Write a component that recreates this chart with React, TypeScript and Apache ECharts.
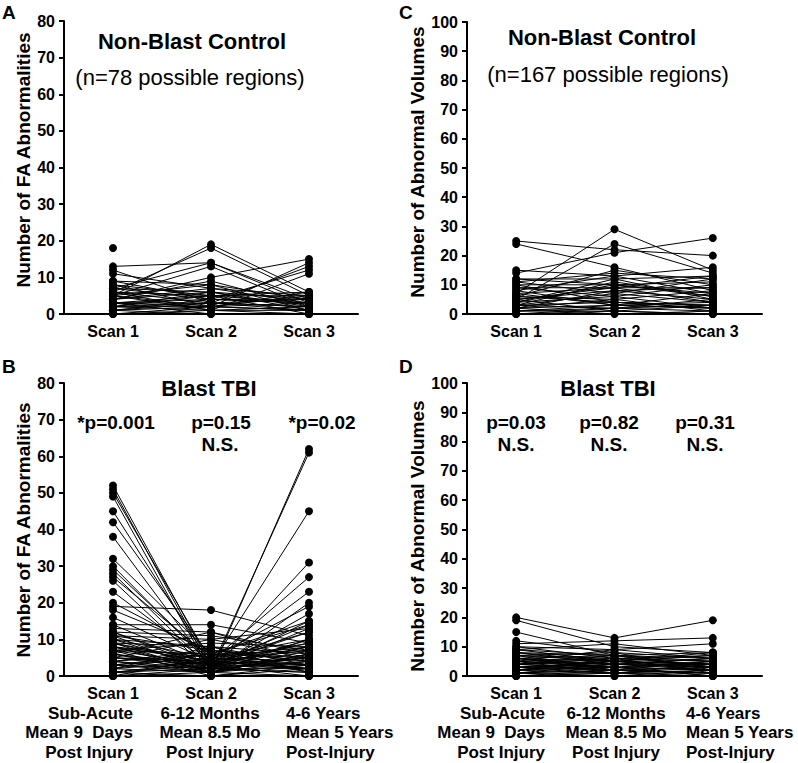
import React, { useEffect, useRef } from "react";
import * as echarts from "echarts";

const CATEGORIES = ["Scan 1", "Scan 2", "Scan 3"];

// Panel A: Non-Blast Control, FA abnormalities (one entry per subject)
const A_SCAN1 = [18,13,12,5,6,7,5,4,9,8, 6,3,2,11,7,6,5,4,3,2, 1,0,4,3,2,1,5,6,3,2, 1,0,4,9,8,5,2,3,1,7];
const A_SCAN2 = [null,14,3,19,18,14,13,10,8,2, 3,4,1,7,6,5,8,6,2,5, 3,1,7,0,2,4,2,1,3,6, 0,2,9,4,5,1,3,5,2,4];
const A_SCAN3 = [null,4,1,6,5,3,2,15,4,14, 13,12,11,5,2,3,1,4,6,0, 2,1,3,0,5,3,1,2,4,1, 0,3,2,3,6,0,2,5,1,4];

// Panel C: Non-Blast Control, abnormal volumes
const C_SCAN1 = [25,24,7,5,14,15,12,11,10,9, 8,6,7,5,4,3,2,1,0,6, 4,3,2,1,5,8,9,10,3,2, 4,6,1,0,3,7,11,12,2,5];
const C_SCAN2 = [22,16,29,24,21,13,12,14,10,9, 13,15,9,8,10,7,5,3,2,4, 6,2,3,1,9,3,6,4,11,8, 12,5,2,1,4,3,7,10,0,1];
const C_SCAN3 = [20,8,15,14,26,16,13,12,11,13, 7,10,9,5,6,4,8,2,1,3, 2,5,7,0,4,2,10,3,6,9, 5,1,3,0,2,4,12,7,1,3];

// Panel B: Blast TBI, FA abnormalities
const B_SCAN1 = [52,51,50,49,45,42,38,32,30,29, 28,27,26,23,20,19,18,16,14,13, 12,11,10,9,8,7,6,5,12,4, 3,10,2,9,1,8,0,7,6,5, 11,4,3,2,1,0,9,8,7,6, 5,4,3,2,1,0,10,14,12,11, 9,8,7,6,5,4,3,2,1,0];
const B_SCAN2 = [3,2,4,1,3,5,2,6,3,4, 2,5,1,3,6,18,7,4,14,12, 11,10,8,1,2,3,2,4,3,1, 5,2,6,3,2,4,1,9,12,10, 7,6,2,8,3,5,4,1,6,3, 2,7,1,4,0,2,5,3,2,1, 8,5,0,1,3,2,6,1,4,0];
const B_SCAN3 = [5,8,3,6,2,10,4,7,12,9, 15,3,6,8,14,11,5,2,9,4, 7,13,3,62,61,45,31,27,23,20, 19,17,15,14,13,12,10,8,6,5, 4,3,2,1,0,2,7,3,5,9, 1,4,6,2,3,1,8,5,10,7, 6,4,2,0,3,5,1,4,2,0];

// Panel D: Blast TBI, abnormal volumes
const D_SCAN1 = [20,19,15,12,11,10,10,9,9,8, 8,7,7,6,6,5,5,4,4,3, 3,2,2,1,1,0,6,5,4,3, 2,1,7,8,6,5,4,3,2,1, 0,9,7,6,5,4,3,2,1,0];
const D_SCAN2 = [13,10,7,8,12,9,6,11,5,7, 4,6,8,3,5,4,6,2,5,3, 4,1,3,2,0,1,7,9,6,5, 4,3,2,5,4,3,7,2,6,4, 2,7,5,2,1,3,1,5,1,0];
const D_SCAN3 = [19,8,5,6,13,11,4,7,8,3, 6,5,2,4,7,3,1,5,4,2, 6,3,0,1,2,0,8,6,7,3, 4,2,1,4,2,5,3,1,5,3, 1,6,4,3,2,0,4,2,1,0];

const FONT = "'Liberation Sans', Arial, Helvetica, sans-serif";

function subjectSeries(s1: any[], s2: any[], s3: any[], axisIndex: number) {
  return s1.map((v, i) => ({
    type: "line",
    xAxisIndex: axisIndex,
    yAxisIndex: axisIndex,
    data: [v, s2[i], s3[i]],
    symbol: "circle",
    symbolSize: 8,
    showSymbol: true,
    connectNulls: false,
    silent: true,
    itemStyle: { color: "#000" },
    lineStyle: { color: "#000", width: 1 },
  }));
}

function txt(text: string, x: number, y: number, size: number, bold: boolean, align = "center", rotation = 0) {
  return {
    type: "text",
    x,
    y,
    rotation,
    style: {
      text,
      fill: "#000",
      fontSize: size,
      fontWeight: bold ? "bold" : "normal",
      fontFamily: FONT,
      align,
      verticalAlign: "middle",
    },
  };
}

export default function App() {
  const ref = useRef<HTMLDivElement>(null);
  useEffect(() => {
    if (!ref.current) return;
    const chart = echarts.init(ref.current, null, { renderer: "svg" });
    const grids = [
      { left: 64, top: 21, width: 294, height: 293 },
      { left: 64, top: 383, width: 294, height: 293 },
      { left: 467, top: 22, width: 295, height: 292 },
      { left: 467, top: 383, width: 295, height: 293 },
    ];
    const maxes = [80, 80, 100, 100];
    const xAxes = grids.map((_, i) => ({
      type: "category",
      gridIndex: i,
      data: CATEGORIES,
      boundaryGap: true,
      axisLine: { lineStyle: { color: "#000", width: 2 } },
      axisTick: { alignWithLabel: true, length: 5, lineStyle: { color: "#000", width: 2 } },
      axisLabel: { color: "#000", fontSize: 16, fontWeight: "bold", fontFamily: FONT, margin: 9 },
      splitLine: { show: false },
    }));
    const yAxes = grids.map((_, i) => ({
      type: "value",
      gridIndex: i,
      min: 0,
      max: maxes[i],
      interval: 10,
      axisLine: { show: true, lineStyle: { color: "#000", width: 2 } },
      axisTick: { show: true, length: 5, lineStyle: { color: "#000", width: 2 } },
      axisLabel: { color: "#000", fontSize: 16, fontWeight: "bold", fontFamily: FONT, margin: 9 },
      splitLine: { show: false },
    }));
    const series = [
      ...subjectSeries(A_SCAN1, A_SCAN2, A_SCAN3, 0),
      ...subjectSeries(B_SCAN1, B_SCAN2, B_SCAN3, 1),
      ...subjectSeries(C_SCAN1, C_SCAN2, C_SCAN3, 2),
      ...subjectSeries(D_SCAN1, D_SCAN2, D_SCAN3, 3),
    ];
    const sub = (x: number, align: string, lines: string[]) =>
      lines.map((l, k) => txt(l, x, 713 + k * 19.5, 17, true, align));
    const graphic = [
      txt("A", 2, 12, 19, true, "left"),
      txt("B", 2, 366, 19, true, "left"),
      txt("C", 399, 12, 19, true, "left"),
      txt("D", 399, 366, 19, true, "left"),
      txt("Non-Blast Control", 192, 41, 22, true),
      txt("(n=78 possible regions)", 190, 77, 22, false),
      txt("Non-Blast Control", 602, 37, 22, true),
      txt("(n=167 possible regions)", 608, 74, 22, false),
      txt("Blast TBI", 209, 388, 22, true),
      txt("Blast TBI", 608, 388, 22, true),
      txt("*p=0.001", 116, 422, 19, true),
      txt("p=0.15", 221, 422, 19, true),
      txt("N.S.", 220, 444, 19, true),
      txt("*p=0.02", 322, 422, 19, true),
      txt("p=0.03", 516, 422, 19, true),
      txt("N.S.", 516, 444, 19, true),
      txt("p=0.82", 609, 422, 19, true),
      txt("N.S.", 609, 444, 19, true),
      txt("p=0.31", 705, 422, 19, true),
      txt("N.S.", 705, 444, 19, true),
      txt("Number of FA Abnormalities", 23, 160, 19, true, "center", Math.PI / 2),
      txt("Number of FA Abnormalities", 23, 530, 19, true, "center", Math.PI / 2),
      txt("Number of Abnormal Volumes", 417, 162, 19, true, "center", Math.PI / 2),
      txt("Number of Abnormal Volumes", 417, 536, 19, true, "center", Math.PI / 2),
      ...sub(133, "right", ["Sub-Acute", "Mean 9  Days", "Post Injury"]),
      ...sub(210, "center", ["6-12 Months", "Mean 8.5 Mo", "Post Injury"]),
      ...sub(286, "left", ["4-6 Years", "Mean 5 Years", "Post-Injury"]),
      ...sub(545, "right", ["Sub-Acute", "Mean 9  Days", "Post Injury"]),
      ...sub(616, "center", ["6-12 Months", "Mean 8.5 Mo", "Post Injury"]),
      ...sub(686, "left", ["4-6 Years", "Mean 5 Years", "Post-Injury"]),
    ];
    chart.setOption({
      animation: false,
      backgroundColor: "#fff",
      grid: grids,
      xAxis: xAxes,
      yAxis: yAxes,
      series,
      graphic,
    });
    return () => chart.dispose();
  }, []);
  return (
    <div
      ref={ref}
      style={{ position: "absolute", left: 0, top: 0, width: 798, height: 763 }}
    />
  );
}
